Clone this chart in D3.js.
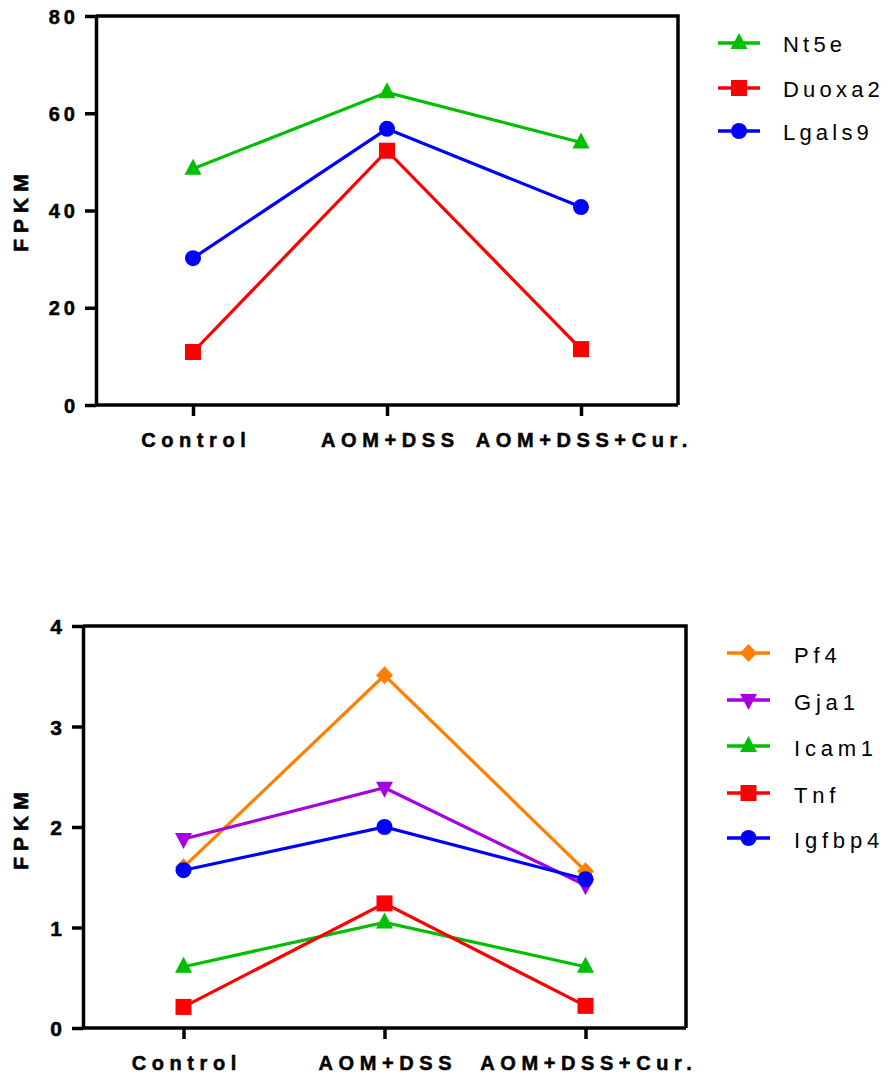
<!DOCTYPE html>
<html>
<head>
<meta charset="utf-8">
<script src="https://cdn.jsdelivr.net/npm/d3@7"></script>
<style>
  html, body { margin: 0; padding: 0; background: #fff; }
  svg { display: block; font-family: "Liberation Sans", Arial, sans-serif; }
</style>
</head>
<body>
<svg id="chart" width="890" height="1078"></svg>
<script>
// ---------- DATA ----------
const categories = ["Control", "AOM+DSS", "AOM+DSS+Cur."];

const topYTicks = [0, 20, 40, 60, 80];
const bottomYTicks = [0, 1, 2, 3, 4];
const yLabel = "FPKM";

// top panel series
const topNames = ["Nt5e", "Duoxa2", "Lgals9"];
const nt5e   = [48.6, 64.3, 54.0];
const duoxa2 = [10.9, 52.3, 11.5];
const lgals9 = [30.2, 56.8, 40.7];

// bottom panel series
const bottomNames = ["Pf4", "Gja1", "Icam1", "Tnf", "Igfbp4"];
const pf4    = [1.60, 3.51, 1.56];
const gja1   = [1.88, 2.39, 1.42];
const icam1  = [0.61, 1.05, 0.61];
const tnf    = [0.21, 1.24, 0.22];
const igfbp4 = [1.57, 2.00, 1.48];

// ---------- STYLE ----------
const GREEN = "#00BE00", RED = "#FF0000", BLUE = "#0000FF", ORANGE = "#FF8000", PURPLE = "#A600E0";

const markers = {
  triangle: "M0,-10L8.5,6L-8.5,6Z",
  triangleDown: "M0,10L8.5,-6L-8.5,-6Z",
  square: "M-8,-8H8V8H-8Z",
  diamond: "M0,-9L8.5,0L0,9L-8.5,0Z",
  circle: d3.symbol(d3.symbolCircle, Math.PI * 64)()
};

const svg = d3.select("#chart");

function drawPanel(cfg) {
  const g = svg.append("g");
  const x = d3.scalePoint().domain(categories).range([cfg.left, cfg.right]).padding(0.5);
  const y = d3.scaleLinear().domain(cfg.yDomain).range([cfg.bottom, cfg.top]);

  // frame (top + right)
  g.append("path")
    .attr("d", `M${cfg.left},${cfg.top}H${cfg.right}V${cfg.bottom}`)
    .attr("fill", "none").attr("stroke", "#000").attr("stroke-width", 3.5);

  // y axis
  const ya = g.append("g").attr("transform", `translate(${cfg.left},0)`)
    .call(d3.axisLeft(y).tickValues(cfg.yTicks).tickFormat(d3.format("d"))
      .tickSize(11).tickPadding(cfg.yTickPad).tickSizeOuter(0));
  ya.select(".domain").attr("stroke-width", 3.5);
  ya.selectAll(".tick line").attr("stroke-width", 3.5);
  ya.selectAll(".tick text")
    .attr("font-size", cfg.yTickFont).attr("font-weight", "bold")
    .attr("fill", "#000").attr("stroke", "#000").attr("stroke-width", 0.5)
    .attr("letter-spacing", 4).attr("font-family", "Liberation Sans, Arial, sans-serif")
    .attr("dy", "0.36em");

  // x axis
  const xa = g.append("g").attr("transform", `translate(0,${cfg.bottom})`)
    .call(d3.axisBottom(x).tickSize(11).tickPadding(17).tickSizeOuter(0));
  xa.select(".domain").attr("stroke-width", 3.5)
    .attr("d", `M${cfg.left},0H${cfg.right}`);
  xa.selectAll(".tick line").attr("stroke-width", 3.5);
  xa.selectAll(".tick text")
    .attr("font-size", 20).attr("font-weight", "bold")
    .attr("fill", "#000").attr("stroke", "#000").attr("stroke-width", 0.5)
    .attr("letter-spacing", 5.6).attr("dx", 2.8)
    .attr("font-family", "Liberation Sans, Arial, sans-serif");

  // y label
  g.append("text")
    .attr("transform", `translate(${cfg.ylabX},${cfg.ylabY}) rotate(-90)`)
    .attr("text-anchor", "middle").attr("dy", "0.36em").attr("dx", 3)
    .attr("font-size", 21).attr("font-weight", "bold").attr("letter-spacing", 6)
    .attr("stroke", "#000").attr("stroke-width", 0.6)
    .text(yLabel);

  const line = d3.line().x((d, i) => x(categories[i])).y(d => y(d));

  cfg.series.forEach(s => {
    g.append("path").datum(s.values)
      .attr("d", line).attr("fill", "none")
      .attr("stroke", s.color).attr("stroke-width", 3.2).attr("stroke-linejoin", "miter");
    g.selectAll(null).data(s.values).enter().append("path")
      .attr("d", markers[s.marker])
      .attr("transform", (d, i) => `translate(${x(categories[i])},${y(d)})`)
      .attr("fill", s.color);
  });

  // legend
  cfg.series.forEach((s, i) => {
    const ly = cfg.legY[i];
    const lg = g.append("g");
    lg.append("line").attr("x1", cfg.legX1).attr("x2", cfg.legX2).attr("y1", ly).attr("y2", ly)
      .attr("stroke", s.color).attr("stroke-width", 3.5);
    lg.append("path").attr("d", markers[s.marker])
      .attr("transform", `translate(${(cfg.legX1 + cfg.legX2) / 2},${ly})`).attr("fill", s.color);
    lg.append("text").attr("x", cfg.legTextX).attr("y", ly + cfg.legBase)
      .attr("font-size", 22).attr("letter-spacing", cfg.legSpacing).attr("fill", "#000")
      .text(s.name);
  });
}

drawPanel({
  left: 96, right: 678, top: 16, bottom: 405,
  yDomain: [0, 80], yTicks: topYTicks, yTickFont: 20, yTickPad: 6,
  ylabX: 20, ylabY: 213,
  legX1: 718, legX2: 760, legTextX: 783, legBase: 9, legSpacing: 4.2,
  legY: [43, 88, 131],
  series: [
    { name: topNames[0], values: nt5e, color: GREEN, marker: "triangle" },
    { name: topNames[1], values: duoxa2, color: RED, marker: "square" },
    { name: topNames[2], values: lgals9, color: BLUE, marker: "circle" }
  ]
});

drawPanel({
  left: 83, right: 686, top: 626, bottom: 1028,
  yDomain: [0, 4], yTicks: bottomYTicks, yTickFont: 21, yTickPad: 6,
  ylabX: 20, ylabY: 831,
  legX1: 727, legX2: 770, legTextX: 794, legBase: 10, legSpacing: 4.8,
  legY: [653, 700, 746, 793, 838],
  series: [
    { name: bottomNames[0], values: pf4, color: ORANGE, marker: "diamond" },
    { name: bottomNames[1], values: gja1, color: PURPLE, marker: "triangleDown" },
    { name: bottomNames[2], values: icam1, color: GREEN, marker: "triangle" },
    { name: bottomNames[3], values: tnf, color: RED, marker: "square" },
    { name: bottomNames[4], values: igfbp4, color: BLUE, marker: "circle" }
  ]
});
</script>
</body>
</html>
